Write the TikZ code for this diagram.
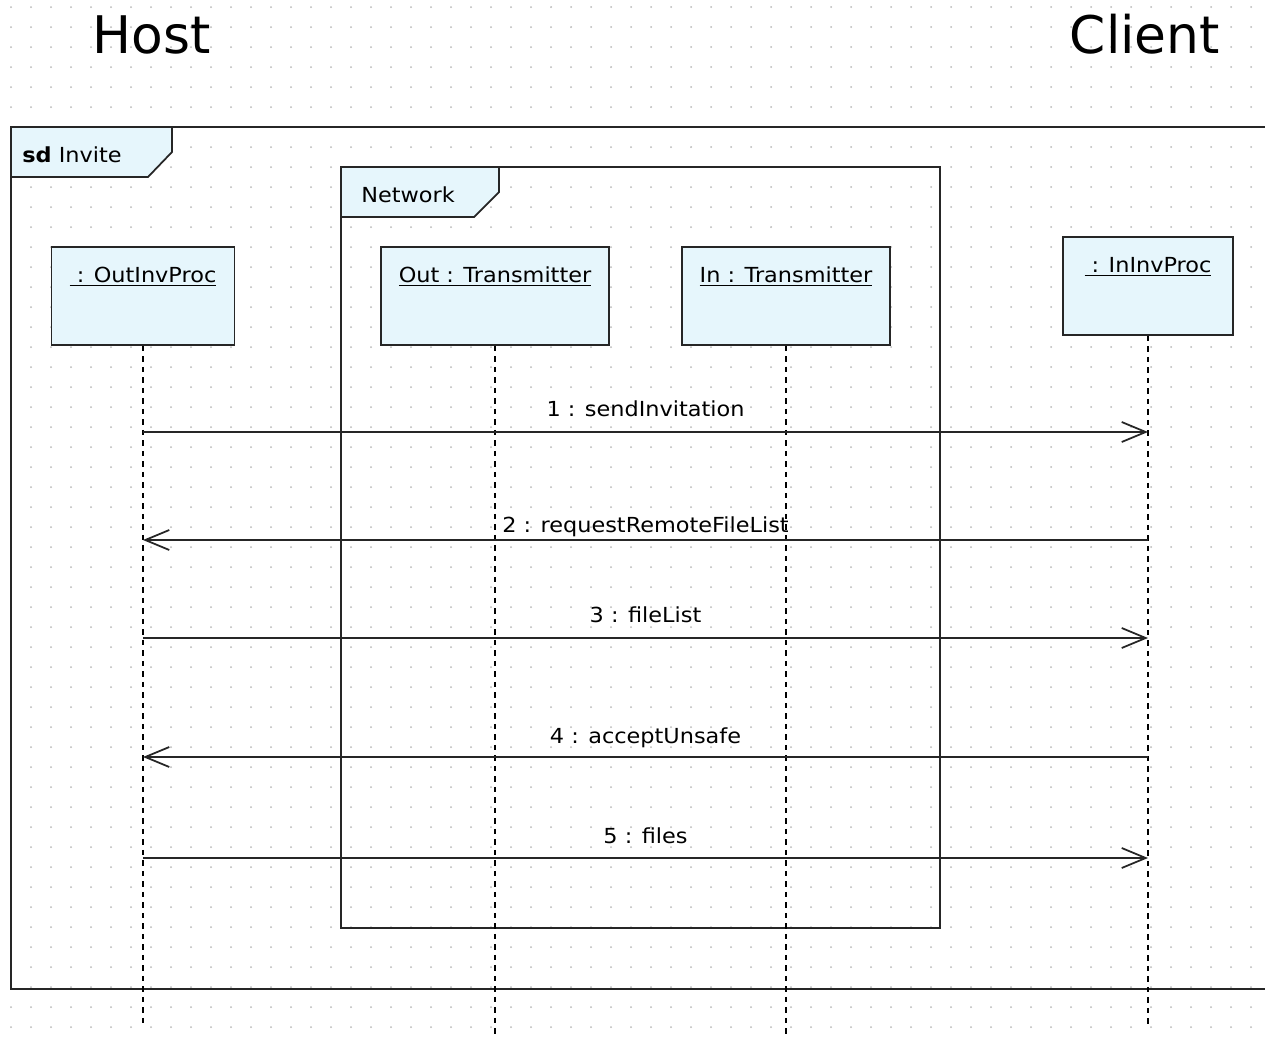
\documentclass[tikz,border=0pt]{standalone}
\usepackage{fontspec}
\setmainfont[FakeStretch=1.08]{DejaVu Sans}
\newfontfamily\titlefont{DejaVu Sans}
\usepackage{tikz}
\usetikzlibrary{arrows.meta}
\definecolor{boxfill}{RGB}{230,246,252}
\definecolor{griddot}{RGB}{185,185,185}
\newcommand{\lblfont}{\fontsize{11.8pt}{13pt}\selectfont}
\newcommand{\hdfont}{\titlefont\fontsize{29.5pt}{32pt}\selectfont}
\tikzstyle{frame} = [line width=1pt, draw=black!85]
\tikzstyle{tab} = [frame, fill=boxfill]
\tikzstyle{objbox} = [rectangle, line width=1pt, draw=black!85, fill=boxfill, minimum height=1.96cm]
\tikzstyle{objlabel} = [anchor=base, inner sep=0pt, font=\lblfont]
\tikzstyle{lifeline} = [line width=1.3pt, dash pattern=on 0.11cm off 0.1cm]
\tikzstyle{msg} = [line width=1pt, draw=black!85, -{Straight Barb[length=0.48cm, width=0.4cm]}]
\tikzstyle{msglabel} = [anchor=base, inner sep=0pt, font=\lblfont]
\tikzstyle{title} = [anchor=base, inner sep=0pt, font=\hdfont]
\begin{document}
\begin{tikzpicture}[x=0.02cm, y=-0.02cm]
\useasboundingbox (0,0) rectangle (1265,1042);
\fill[white] (0,0) rectangle (1265,1042);
% dotted grid
\foreach \gx in {11,31,...,1251}
  \foreach \gy in {7,27,...,1027}
    \fill[griddot] (\gx,\gy) circle (0.02cm);

\node (host) [title] at (152,53) {Host};
\node (client) [title] at (1145,53) {Client};

% frames
\draw [frame] (1280,127) -- (11,127) -- (11,989) -- (1280,989);
\draw [tab] (11,127) -- (172,127) -- (172,152) -- (148,177) -- (11,177) -- cycle;
\node (sdlbl) [anchor=base west, inner sep=0pt, font=\lblfont] at (22,162) {\textbf{sd} Invite};
\draw [frame] (341,167) rectangle (940,928);
\draw [tab] (341,167) -- (499,167) -- (499,192) -- (474,217) -- (341,217) -- cycle;
\node (netlbl) [anchor=base west, inner sep=0pt, font=\lblfont] at (361,202) {Network};

% lifelines
\node (outproc) [objbox, minimum width=3.66cm] at (143,296) {};
\node (outtr) [objbox, minimum width=4.56cm] at (495,296) {};
\node (intr) [objbox, minimum width=4.16cm] at (786,296) {};
\node (inproc) [objbox, minimum width=3.4cm] at (1148,286) {};
\node (outproclbl) [objlabel] at ([yshift=-0.72cm]outproc.north) {\underline{\ : OutInvProc}};
\node (outtrlbl) [objlabel] at ([yshift=-0.72cm]outtr.north) {\underline{Out : Transmitter}};
\node (intrlbl) [objlabel] at ([yshift=-0.72cm]intr.north) {\underline{In : Transmitter}};
\node (inproclbl) [objlabel] at ([yshift=-0.72cm]inproc.north) {\underline{\ : InInvProc}};
\coordinate (outprocend) at (143,1025);
\coordinate (outtrend) at (495,1038);
\coordinate (intrend) at (786,1038);
\coordinate (inprocend) at (1148,1028);
\draw [lifeline] (outproc.south) -- (outprocend);
\draw [lifeline] (outtr.south) -- (outtrend);
\draw [lifeline] (intr.south) -- (intrend);
\draw [lifeline] (inproc.south) -- (inprocend);

% messages
\draw [msg] (outproc.south |- 0,432) -- node [msglabel, yshift=0.32cm] {1 : sendInvitation} (inproc.south |- 0,432);
\draw [msg] (inproc.south |- 0,540) -- node [msglabel, yshift=0.16cm] {2 : requestRemoteFileList} (outproc.south |- 0,540);
\draw [msg] (outproc.south |- 0,638) -- node [msglabel, yshift=0.32cm] {3 : fileList} (inproc.south |- 0,638);
\draw [msg] (inproc.south |- 0,757) -- node [msglabel, yshift=0.28cm] {4 : acceptUnsafe} (outproc.south |- 0,757);
\draw [msg] (outproc.south |- 0,858) -- node [msglabel, yshift=0.30cm] {5 : files} (inproc.south |- 0,858);
\end{tikzpicture}
\end{document}
